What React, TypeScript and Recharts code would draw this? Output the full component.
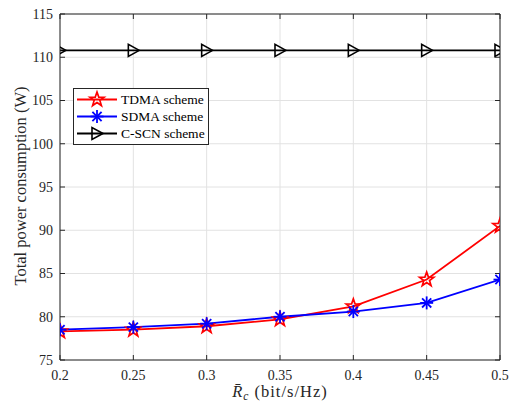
import React from 'react';
import { LineChart, Line, XAxis, YAxis, CartesianGrid, Legend } from 'recharts';

// rate thresholds (bit/s/Hz)
const rates = [0.2, 0.25, 0.3, 0.35, 0.4, 0.45, 0.5];
// total power consumption (W)
const tdma = [78.3, 78.5, 78.9, 79.7, 81.2, 84.3, 90.5];
const sdma = [78.5, 78.8, 79.2, 80.0, 80.6, 81.6, 84.3];
const cscn = [110.8, 110.8, 110.8, 110.8, 110.8, 110.8, 110.8];

const xTicks = [0.2, 0.25, 0.3, 0.35, 0.4, 0.45, 0.5];
const yTicks = [75, 80, 85, 90, 95, 100, 105, 110, 115];

const data = rates.map((r, i) => ({ r, tdma: tdma[i], sdma: sdma[i], cscn: cscn[i] }));

const FONT = 'Liberation Serif';
const AXIS = '#262626';

const Star = ({ cx, cy, color }: any) => {
  const pts: string[] = [];
  for (let k = 0; k < 10; k++) {
    const rad = k % 2 === 0 ? 7.5 : 3;
    const a = -Math.PI / 2 + (k * Math.PI) / 5;
    pts.push(`${cx + rad * Math.cos(a)},${cy + rad * Math.sin(a)}`);
  }
  return <polygon points={pts.join(' ')} fill="none" stroke={color} strokeWidth={1.7} />;
};

const Asterisk = ({ cx, cy, color }: any) => {
  const r = 6.5;
  const d = r * 0.7071;
  return (
    <g stroke={color} strokeWidth={1.8}>
      <line x1={cx - r} y1={cy} x2={cx + r} y2={cy} />
      <line x1={cx} y1={cy - r} x2={cx} y2={cy + r} />
      <line x1={cx - d} y1={cy - d} x2={cx + d} y2={cy + d} />
      <line x1={cx - d} y1={cy + d} x2={cx + d} y2={cy - d} />
    </g>
  );
};

const Tri = ({ cx, cy, color }: any) => (
  <polygon
    points={`${cx + 6},${cy} ${cx - 5},${cy - 6} ${cx - 5},${cy + 6}`}
    fill="none"
    stroke={color}
    strokeWidth={1.6}
  />
);

const legendItems = [
  { name: 'TDMA scheme', color: '#ff0000', Marker: Star },
  { name: 'SDMA scheme', color: '#0000ff', Marker: Asterisk },
  { name: 'C-SCN scheme', color: '#000000', Marker: Tri },
];

const renderLegend = () => (
  <svg width={136} height={57} style={{ display: 'block' }}>
    <rect x={0.5} y={0.5} width={135} height={56} fill="#fff" stroke={AXIS} strokeWidth={1} />
    {legendItems.map((it, i) => {
      const y = 11.5 + i * 17;
      const M = it.Marker;
      return (
        <g key={it.name}>
          <line x1={4} x2={44} y1={y} y2={y} stroke={it.color} strokeWidth={1.8} />
          <M cx={24} cy={y} color={it.color} />
          <text x={48} y={y} dy="0.35em" fontFamily={FONT} fontSize={13.5} fill="#000">
            {it.name}
          </text>
        </g>
      );
    })}
  </svg>
);

const renderYLabel = () => (
  <text
    x={20}
    y={186}
    transform="rotate(-90 20 186)"
    textAnchor="middle"
    dy="0.35em"
    fontFamily={FONT}
    fontSize={16.5}
    fill={AXIS}
  >
    Total power consumption (W)
  </text>
);

const renderXLabel = () => (
  <text x={280} y={397} textAnchor="middle" fontFamily={FONT} fontSize={16.5} letterSpacing={1} fill={AXIS}>
    <tspan fontStyle="italic">{'R\u0304'}</tspan>
    <tspan fontStyle="italic" fontSize={11.5} dy={3}>c</tspan>
    <tspan dy={-3}>{' (bit/s/Hz)'}</tspan>
  </text>
);

const tickStyle = { fontFamily: FONT, fontSize: 14, fill: AXIS };

export default function App() {
  return (
    <div style={{ position: 'absolute', left: 0, top: 0 }}>
      <LineChart
        width={518}
        height={405}
        data={data}
        margin={{ top: 0, right: 0, left: 0, bottom: 0 }}
        style={{ fontFamily: FONT }}
      >
        <CartesianGrid stroke="#e2e2e2" />
        <XAxis
          dataKey="r"
          type="number"
          domain={[0.2, 0.5]}
          ticks={xTicks}
          height={45}
          stroke={AXIS}
          tickSize={-5}
          tickMargin={15}
          tick={tickStyle}
          allowDataOverflow
          label={renderXLabel}
        />
        <XAxis
          xAxisId="top"
          orientation="top"
          type="number"
          dataKey="r"
          domain={[0.2, 0.5]}
          ticks={xTicks}
          height={14}
          stroke={AXIS}
          tickSize={-5}
          tickFormatter={() => ''}
          allowDataOverflow
        />
        <YAxis
          type="number"
          domain={[75, 115]}
          ticks={yTicks}
          width={60}
          stroke={AXIS}
          tickSize={-5}
          tickMargin={12}
          tick={tickStyle}
          allowDataOverflow
          label={renderYLabel}
        />
        <YAxis
          yAxisId="right"
          orientation="right"
          type="number"
          domain={[75, 115]}
          ticks={yTicks}
          width={18}
          stroke={AXIS}
          tickSize={-5}
          tickFormatter={() => ''}
          allowDataOverflow
        />
        <Legend
          layout="horizontal"
          verticalAlign="middle"
          align="center"
          content={renderLegend}
          wrapperStyle={{ position: 'absolute', left: 73, top: 88, width: 136, height: 57 }}
        />
        <Line
          dataKey="tdma"
          stroke="#ff0000"
          strokeWidth={1.8}
          isAnimationActive={false}
          activeDot={false}
          dot={(p: any) => <Star key={`t${p.index}`} cx={p.cx} cy={p.cy} color="#ff0000" />}
        />
        <Line
          dataKey="sdma"
          stroke="#0000ff"
          strokeWidth={1.8}
          isAnimationActive={false}
          activeDot={false}
          dot={(p: any) => <Asterisk key={`s${p.index}`} cx={p.cx} cy={p.cy} color="#0000ff" />}
        />
        <Line
          dataKey="cscn"
          stroke="#000000"
          strokeWidth={1.6}
          isAnimationActive={false}
          activeDot={false}
          dot={(p: any) => <Tri key={`c${p.index}`} cx={p.cx} cy={p.cy} color="#000000" />}
        />
      </LineChart>
    </div>
  );
}
